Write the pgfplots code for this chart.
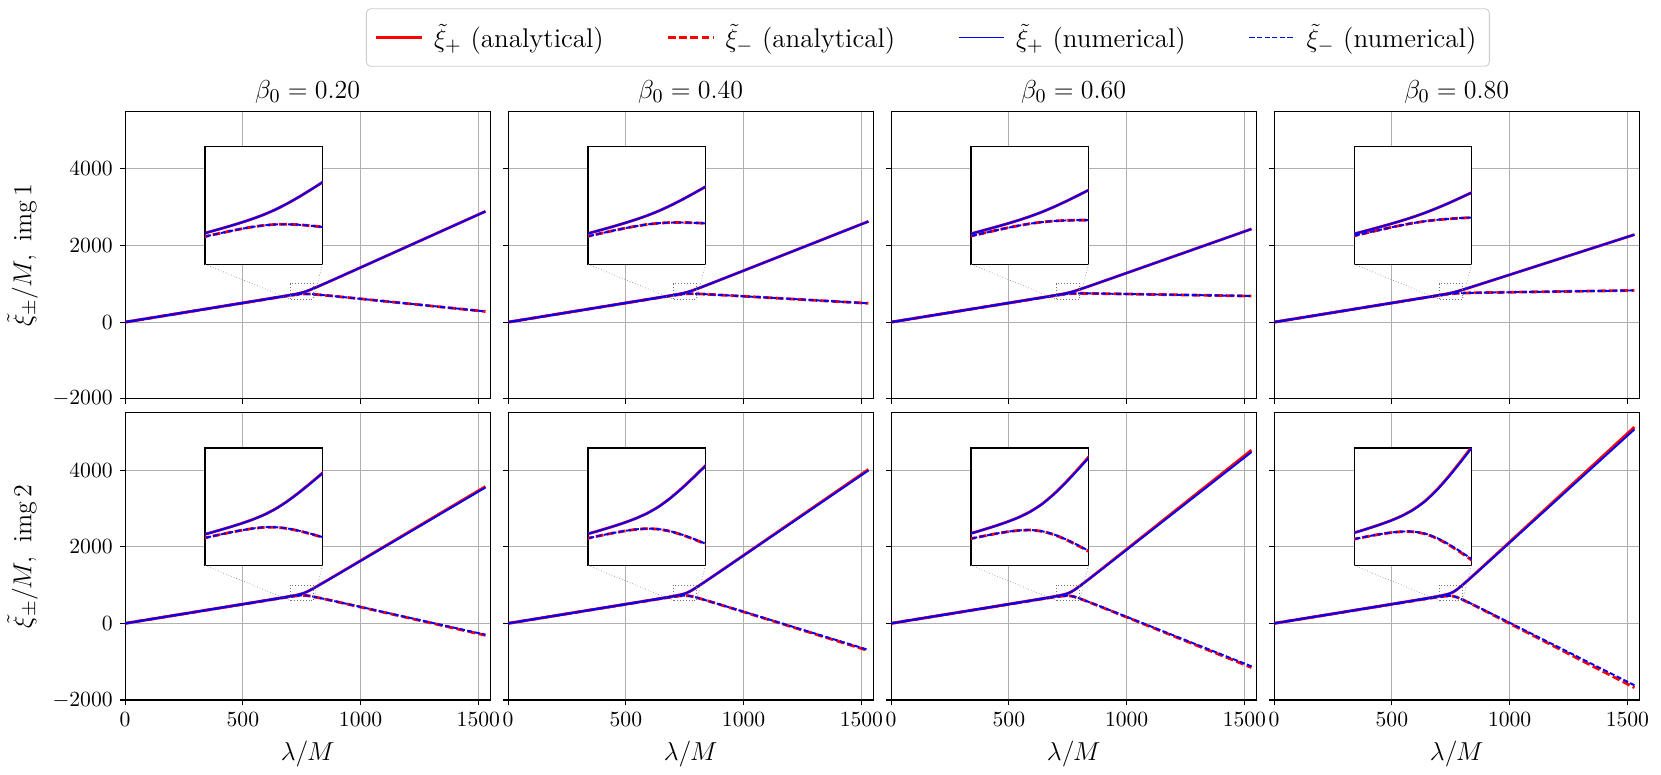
\documentclass[border=0pt]{standalone}
\usepackage{pgfplots}
\pgfplotsset{compat=1.18}
\usepackage{pgfplotstable}
\usepgfplotslibrary{groupplots}
\usetikzlibrary{calc}

% lam: lambda/M ; ap/am analytical xi+/xi- ; np/nm numerical xi+/xi-
\pgfplotstableread{
lam ap am np nm
0 0 0 0 0
500 501.5 498.6 501.5 498.6
650 653.6 646.7 653.6 646.7
700 706.3 694.3 706.3 694.3
710 717.4 703.2 717.4 703.2
720 728.8 711.9 728.8 711.9
730 741.0 719.9 741.0 719.9
740 754.2 727.0 754.2 727.0
750 769.1 732.4 769.1 732.4
760 786.5 735.6 786.5 735.6
770 806.8 736.2 806.8 736.2
780 829.5 734.5 829.5 734.5
790 854.0 731.2 854.0 731.2
800 879.5 726.9 879.5 726.9
820 932.3 716.8 932.3 716.8
850 1013.3 699.8 1013.3 699.8
900 1150.2 669.9 1150.2 669.9
1000 1425.7 608.5 1425.7 608.5
1200 1978.4 484.2 1977.0 485.0
1530 2891.1 278.3 2888.0 280.0
}\tA
\pgfplotstableread{
lam ap am np nm
0 0 0 0 0
500 501.2 498.8 501.2 498.8
650 652.9 647.3 652.9 647.3
700 705.1 695.2 705.1 695.2
710 715.9 704.4 715.9 704.4
720 727.1 713.3 727.1 713.3
730 738.9 721.6 738.9 721.6
740 751.5 729.2 751.5 729.2
750 765.4 735.4 765.4 735.4
760 781.4 739.8 781.4 739.8
770 799.7 742.0 799.7 742.0
780 820.0 742.2 820.0 742.2
790 841.7 741.2 841.7 741.2
800 864.2 739.3 864.2 739.3
820 910.7 734.3 910.7 734.3
850 981.9 725.3 981.9 725.3
900 1102.1 709.0 1102.1 709.0
1000 1343.8 675.0 1343.8 675.0
1200 1828.6 605.8 1827.5 606.5
1530 2629.2 490.9 2626.5 492.5
}\tB
\pgfplotstableread{
lam ap am np nm
0 0 0 0 0
500 501.0 499.1 501.0 499.1
650 652.4 647.8 652.4 647.8
700 704.1 696.1 704.1 696.1
710 714.9 705.4 714.9 705.4
720 725.9 714.5 725.9 714.5
730 737.3 723.2 737.3 723.2
740 749.4 731.1 749.4 731.1
750 762.7 738.1 762.7 738.1
760 777.6 743.5 777.6 743.5
770 794.4 747.1 794.4 747.1
780 812.8 749.1 812.8 749.1
790 832.4 750.1 832.4 750.1
800 852.7 750.4 852.7 750.4
820 894.3 749.9 894.3 749.9
850 958.1 748.1 958.1 748.1
900 1065.7 743.8 1065.7 743.8
1000 1281.9 734.3 1281.9 734.3
1200 1715.4 714.1 1714.5 714.6
1530 2431.2 680.4 2429.0 681.5
}\tC
\pgfplotstableread{
lam ap am np nm
0 0 0 0 0
500 500.8 499.2 500.8 499.2
650 652.0 648.2 652.0 648.2
700 703.5 696.8 703.5 696.8
710 714.1 706.2 714.1 706.2
720 724.9 715.4 724.9 715.4
730 736.1 724.3 736.1 724.3
740 747.9 732.7 747.9 732.7
750 760.6 740.1 760.6 740.1
760 774.7 746.3 774.7 746.3
770 790.4 751.0 790.4 751.0
780 807.4 754.4 807.4 754.4
790 825.5 757.0 825.5 757.0
800 844.1 759.0 844.1 759.0
820 882.2 762.1 882.2 762.1
850 940.5 765.7 940.5 765.7
900 1038.6 770.9 1038.6 770.9
1000 1235.9 780.3 1235.9 780.3
1200 1631.3 798.3 1630.5 798.6
1530 2284.1 827.5 2282.5 828.0
}\tD
\pgfplotstableread{
lam ap am np nm
0 0 0 0 0
500 501.6 498.6 501.6 498.6
650 653.7 646.7 653.7 646.7
700 706.6 694.0 706.5 694.0
710 717.8 703.0 717.7 703.0
720 729.5 711.4 729.4 711.5
730 742.0 719.2 741.9 719.3
740 755.9 725.6 755.7 725.7
750 772.4 729.8 772.1 730.0
760 793.1 730.1 792.7 730.4
770 818.9 725.9 818.3 726.3
780 848.9 717.8 848.1 718.3
790 881.5 707.5 880.4 708.2
800 915.5 695.8 914.1 696.7
820 985.6 670.6 983.6 671.9
850 1092.9 630.8 1090.0 632.6
900 1273.8 562.8 1269.3 565.6
1000 1637.5 424.9 1629.8 429.7
1200 2366.5 147.6 2352.4 156.4
1530 3570.3 -310.8 3545.7 -295.4
}\tE
\pgfplotstableread{
lam ap am np nm
0 0 0 0 0
500 501.9 498.3 501.9 498.3
650 654.5 645.9 654.5 645.9
700 708.1 692.7 708.0 692.8
710 719.5 701.4 719.4 701.5
720 731.6 709.6 731.5 709.7
730 744.6 716.8 744.5 716.9
740 759.4 722.5 759.2 722.7
750 777.3 725.4 777.0 725.6
760 800.3 723.6 799.9 723.9
770 829.6 716.2 829.0 716.7
780 863.9 704.3 863.1 705.0
790 901.4 689.5 900.3 690.4
800 940.7 673.1 939.3 674.2
820 1021.7 638.0 1019.7 639.6
850 1145.9 583.0 1143.0 585.4
900 1355.4 489.1 1350.9 492.8
1000 1776.6 299.2 1768.9 305.5
1200 2621.0 -82.3 2606.9 -70.9
1530 4015.5 -712.9 3990.9 -692.9
}\tF
\pgfplotstableread{
lam ap am np nm
0 0 0 0 0
500 502.3 497.9 502.3 497.9
650 655.4 645.1 655.3 645.2
700 709.7 691.3 709.5 691.4
710 721.5 699.7 721.3 699.8
720 733.9 707.5 733.7 707.6
730 747.6 714.2 747.3 714.4
740 763.3 719.1 762.9 719.3
750 782.8 720.6 782.2 720.9
760 808.5 716.5 807.7 717.0
770 841.7 705.7 840.5 706.4
780 881.0 689.5 879.3 690.5
790 924.1 669.8 921.8 671.1
800 969.2 648.3 966.3 650.0
820 1062.6 602.4 1058.5 604.8
850 1206.0 530.8 1199.9 534.4
900 1447.8 408.8 1438.5 414.3
1000 1934.2 162.3 1918.3 171.7
1200 2909.4 -332.8 2880.3 -315.6
1530 4520.0 -1151.1 4469.2 -1121.1
}\tG
\pgfplotstableread{
lam ap am np nm
0 0 0 0 0
500 502.8 497.5 502.8 497.5
650 656.5 644.2 656.4 644.3
700 711.7 689.6 711.5 689.8
710 723.8 697.7 723.6 697.9
720 736.8 705.1 736.5 705.4
730 751.1 711.1 750.7 711.5
740 768.0 715.0 767.5 715.5
750 789.5 714.8 788.8 715.5
760 818.3 708.0 817.3 709.0
770 856.1 693.1 854.7 694.6
780 901.4 671.7 899.4 673.8
790 951.1 646.2 948.4 649.0
800 1003.4 618.5 1000.0 622.0
820 1111.6 559.8 1106.7 564.8
850 1277.9 468.2 1270.7 475.5
900 1558.4 312.4 1547.4 323.7
1000 2122.9 -2.1 2104.1 17.2
1200 3254.7 -633.6 3220.4 -598.4
1530 5123.8 -1677.2 5063.7 -1615.6
}\tH

\pgfplotsset{
  sA/.style={color=red, line width=1.3pt, smooth, tension=0.4},
  sAd/.style={color=red, line width=1.3pt, smooth, tension=0.4, dash pattern=on 3.6pt off 1.6pt},
  sN/.style={color=blue, line width=0.9pt, smooth, tension=0.4},
  sNd/.style={color=blue, line width=0.9pt, smooth, tension=0.4, dash pattern=on 2.4pt off 1.1pt},
  inset/.style={anchor=south west, scale only axis, width=54.3pt, height=54.3pt,
    xmin=700, xmax=800, ymin=600, ymax=1000, xtick=\empty, ytick=\empty,
    axis background/.style={fill=white}, axis line style={line width=0.6pt}},
}
\tikzset{zr/.style={black!55, densely dotted, line width=0.35pt},
  conn/.style={black!50, densely dotted, line width=0.3pt}}

\newcommand\curves[1]{%
  \addplot[sA] table[x=lam, y=ap] {#1};
  \addplot[sAd] table[x=lam, y=am] {#1};
  \addplot[sN] table[x=lam, y=np] {#1};
  \addplot[sNd] table[x=lam, y=nm] {#1};
}
\newcommand\zoombox[1]{%
  \draw[zr] (axis cs:700,600) rectangle (axis cs:800,1000);
  \coordinate (#1l) at (axis cs:700,600);
  \coordinate (#1r) at (axis cs:800,600);
}

\begin{document}
\begin{tikzpicture}
\begin{groupplot}[
  group style={group name=group, group size=4 by 2,
    horizontal sep=8.3pt, vertical sep=6.4pt,
    xticklabels at=edge bottom, yticklabels at=edge left,
    xlabels at=edge bottom, ylabels at=edge left},
  scale only axis, width=168.8pt, height=132.9pt,
  xmin=0, xmax=1550, ymin=-2000, ymax=5500,
  xtick={0,500,1000,1500}, ytick={-2000,0,2000,4000},
  grid=major, grid style={black!31, line width=0.4pt},
  axis line style={line width=0.5pt},
  tick align=outside, tick pos=left, major tick length=2.2pt,
  every tick/.style={black, line width=0.5pt},
  xlabel={$\lambda/M$},
  label style={font=\fontsize{12.5}{15}\selectfont},
  every axis title shift=0pt,
  title style={font=\fontsize{12.6}{15}\selectfont},
  /pgf/number format/1000 sep={},
]
\nextgroupplot[title={$\beta_0 = 0.20$},
  ylabel={$\tilde{\xi}_{\pm}/M,\ \mathrm{img}\,1$},
  legend columns=4,
  legend entries={$\tilde{\xi}_{+}$ (analytical), $\tilde{\xi}_{-}$ (analytical), $\tilde{\xi}_{+}$ (numerical), $\tilde{\xi}_{-}$ (numerical)},
  legend image code/.code={\draw[#1] (0pt,0pt) -- (21pt,0pt);},
  legend style={at={(2.199,1.257)}, anchor=center, draw=black!20,
    rounded corners=2pt, fill=white, font=\fontsize{12.5}{15}\selectfont,
    inner xsep=4pt, inner ysep=5pt,
    /tikz/every odd column/.append style={column sep=3pt},
    /tikz/every even column/.append style={column sep=27pt}},
  legend cell align=left]
\curves{\tA}
\zoombox{a}
\nextgroupplot[title={$\beta_0 = 0.40$}]
\curves{\tB}
\zoombox{b}
\nextgroupplot[title={$\beta_0 = 0.60$}]
\curves{\tC}
\zoombox{c}
\nextgroupplot[title={$\beta_0 = 0.80$}]
\curves{\tD}
\zoombox{d}
\nextgroupplot[ylabel={$\tilde{\xi}_{\pm}/M,\ \mathrm{img}\,2$}]
\curves{\tE}
\zoombox{e}
\nextgroupplot
\curves{\tF}
\zoombox{f}
\nextgroupplot
\curves{\tG}
\zoombox{g}
\nextgroupplot
\curves{\tH}
\zoombox{h}
\end{groupplot}

\begin{axis}[inset, name=ia, at={($(group c1r1.south west)+(37pt,62.2pt)$)}]
\curves{\tA}
\end{axis}
\begin{axis}[inset, name=ib, at={($(group c2r1.south west)+(37pt,62.2pt)$)}]
\curves{\tB}
\end{axis}
\begin{axis}[inset, name=ic, at={($(group c3r1.south west)+(37pt,62.2pt)$)}]
\curves{\tC}
\end{axis}
\begin{axis}[inset, name=id, at={($(group c4r1.south west)+(37pt,62.2pt)$)}]
\curves{\tD}
\end{axis}
\begin{axis}[inset, name=ie, at={($(group c1r2.south west)+(37pt,62.2pt)$)}]
\curves{\tE}
\end{axis}
\begin{axis}[inset, name=if, at={($(group c2r2.south west)+(37pt,62.2pt)$)}]
\curves{\tF}
\end{axis}
\begin{axis}[inset, name=ig, at={($(group c3r2.south west)+(37pt,62.2pt)$)}]
\curves{\tG}
\end{axis}
\begin{axis}[inset, name=ih, at={($(group c4r2.south west)+(37pt,62.2pt)$)}]
\curves{\tH}
\end{axis}

\foreach \k in {a,b,c,d,e,f,g,h}{
  \draw[conn] (i\k.south west) -- (\k l);
  \draw[conn] (i\k.south east) -- (\k r);
}

\path ($(group c1r1.north west)+(-53.8pt,51.5pt)$) rectangle ($(group c1r1.north west)+(710.2pt,-305.9pt)$);
\end{tikzpicture}
\end{document}
